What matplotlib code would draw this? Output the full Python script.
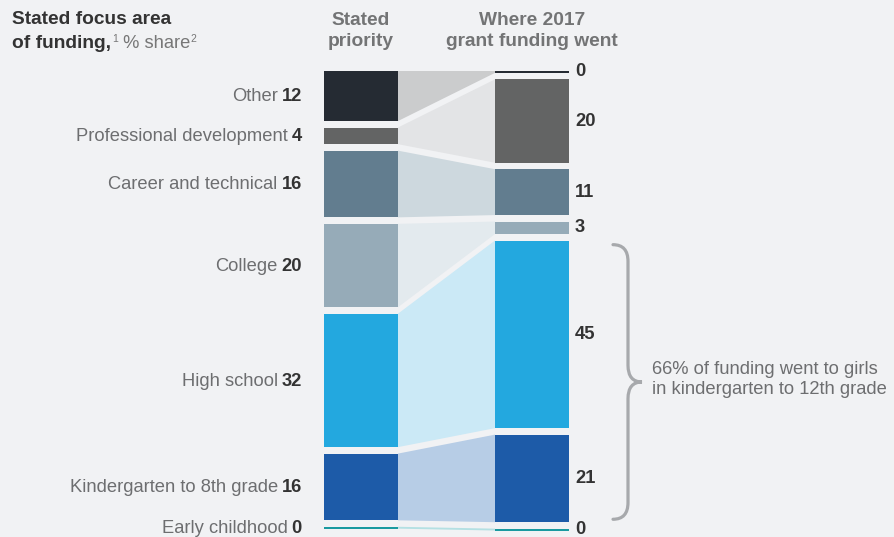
import matplotlib.pyplot as plt
from matplotlib.path import Path
from matplotlib.patches import PathPatch

plt.rcParams["font.family"] = ["Liberation Sans", "DejaVu Sans"]

categories = [
    "Other",
    "Professional development",
    "Career and technical",
    "College",
    "High school",
    "Kindergarten to 8th grade",
    "Early childhood",
]
stated_priority = [12, 4, 16, 20, 32, 16, 0]
grant_funding = [0, 20, 11, 3, 45, 21, 0]

bar_colors = ["#252b33", "#636464", "#627d8f", "#96abb8", "#23a8df", "#1d5ba8", "#1a9aa0"]
band_colors = ["#cbcccd", "#e3e4e6", "#cdd8de", "#e3eaee", "#cbe9f6", "#b7cde6", "#b4e0e3"]

col_headers = ["Stated\npriority", "Where 2017\ngrant funding went"]
brace_note = "66% of funding went to girls\nin kindergarten to 12th grade"

BG = "#f1f2f4"
DARK = "#333333"
GRAY = "#6d6e70"
GAP = 1.55
ZERO_H = 0.45
BAR_W = 74 / 171
PX_X = 171.0   # pixels per x unit
PX_Y = 4.17    # pixels per percentage point
FS = 13.2


def stack(values):
    tops, bots = [], []
    y = 0.0
    for v in values:
        h = v if v > 0 else ZERO_H
        tops.append(y)
        bots.append(y + h)
        y += h + GAP
    return tops, bots


def main():
    fig = plt.figure(figsize=(8.95, 5.37), dpi=100, facecolor=BG)
    ax = fig.add_axes([0, 0, 1, 1])
    ax.set_facecolor(BG)
    ax.set_xlim(-361 / PX_X, (895 - 361) / PX_X)
    ax.set_ylim((537 - 71) / PX_Y, -71 / PX_Y)
    ax.axis("off")

    lt, lb = stack(stated_priority)
    rt, rb = stack(grant_funding)

    xl_edge = BAR_W / 2
    xr_edge = 1 - BAR_W / 2
    for i in range(len(categories)):
        ax.fill([xl_edge, xr_edge, xr_edge, xl_edge], [lt[i], rt[i], rb[i], lb[i]],
                color=band_colors[i], lw=0)
        ax.bar(0, lb[i] - lt[i], bottom=lt[i], width=BAR_W, color=bar_colors[i], lw=0)
        ax.bar(1, rb[i] - rt[i], bottom=rt[i], width=BAR_W, color=bar_colors[i], lw=0)

    renderer = fig.canvas.get_renderer()

    # left labels: name in gray + bold value
    x_lab = (302 - 361) / PX_X
    for i, name in enumerate(categories):
        yc = (lt[i] + lb[i]) / 2 + 0.2
        t = ax.text(x_lab, yc, str(stated_priority[i]), ha="right", va="center",
                    fontsize=FS, fontweight="bold", color=DARK)
        w = t.get_window_extent(renderer).width
        ax.annotate(name, xy=(x_lab, yc), xytext=(-w - 4, 0), textcoords="offset pixels",
                    ha="right", va="center", fontsize=FS, color=GRAY)

    # right values
    x_val = 1 + (575 - 532) / PX_X
    for i, v in enumerate(grant_funding):
        yc = (rt[i] + rb[i]) / 2
        ax.text(x_val, yc, str(v), ha="left", va="center", fontsize=FS,
                fontweight="bold", color=DARK)

    # column headers
    y_head = (31 - 71) / PX_Y
    for x, label in zip([0, 1], col_headers):
        ax.text(x, y_head, label, ha="center", va="center", fontsize=13.8,
                fontweight="bold", color="#737475", linespacing=1.3)

    # title
    fig.text(12 / 895, 1 - 20 / 537, "Stated focus area", ha="left", va="center",
             fontsize=13.8, fontweight="bold", color=DARK)
    t2 = fig.text(12 / 895, 1 - 44 / 537, "of funding,", ha="left", va="center",
                  fontsize=13.8, fontweight="bold", color=DARK)
    x = t2.get_window_extent(renderer).x1 + 1
    pieces = [("1", 7.5, 5), (" % share", 13.2, 0), ("2", 7.5, 5)]
    for txt, size, dy in pieces:
        t = fig.text(x / 895, (537 - 44 + dy) / 537, txt, ha="left", va="center",
                     fontsize=size, color="#777777")
        x = t.get_window_extent(renderer).x1

    # brace around high school + K-8 funding
    i_hs = categories.index("High school")
    i_k8 = categories.index("Kindergarten to 8th grade")
    ytop = rt[i_hs] + 1.0
    ybot = rb[i_k8] - 0.7
    ymid = (ytop + ybot) / 2
    x0 = 1 + (613 - 532) / PX_X
    xs = 1 + (628 - 532) / PX_X
    xt = 1 + (642 - 532) / PX_X
    r = 4.0
    verts = [(x0, ytop), (xs, ytop), (xs, ytop + r), (xs, ymid - r), (xs, ymid), (xt, ymid),
             (xs, ymid), (xs, ymid + r), (xs, ybot - r), (xs, ybot), (x0, ybot)]
    codes = [Path.MOVETO, Path.CURVE3, Path.CURVE3, Path.LINETO, Path.CURVE3, Path.CURVE3,
             Path.CURVE3, Path.CURVE3, Path.LINETO, Path.CURVE3, Path.CURVE3]
    ax.add_patch(PathPatch(Path(verts, codes), fill=False, edgecolor="#a7a9ac", lw=2.3,
                           capstyle="round"))
    ax.text(1 + (652 - 532) / PX_X, ymid - 0.6, brace_note, ha="left", va="center",
            fontsize=FS, color=GRAY, linespacing=1.3)

    fig.savefig("out.png", dpi=100, facecolor=BG)
    plt.close(fig)


if __name__ == "__main__":
    main()
